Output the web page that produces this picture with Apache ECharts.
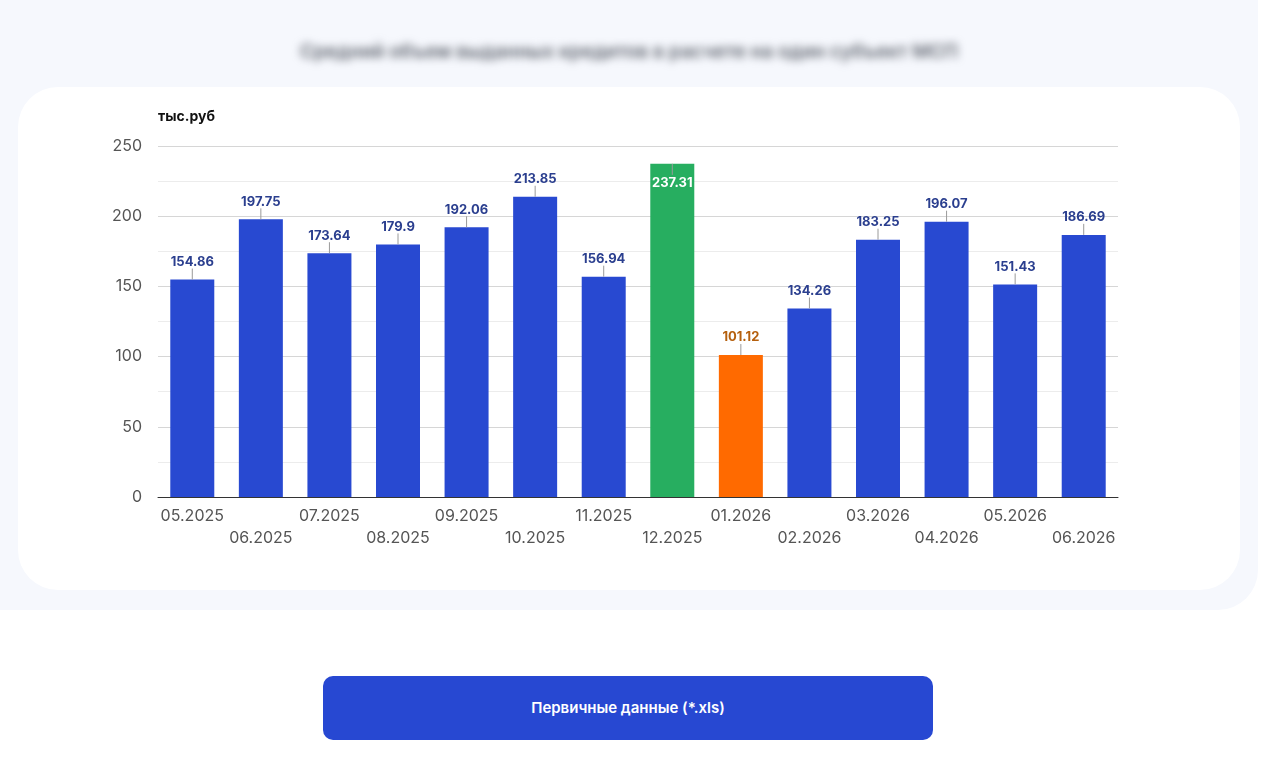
<!DOCTYPE html>
<html><head><meta charset="utf-8">
<script src="https://cdn.jsdelivr.net/npm/echarts@6/dist/echarts.min.js"></script>
<style>
html,body{margin:0;padding:0;background:#fff;width:1280px;height:776px;overflow:hidden;font-family:Inter,sans-serif;}
#outer{position:absolute;left:-40px;top:-40px;width:1298px;height:650px;background:#f6f8fd;border-radius:40px;}
#card{position:absolute;left:18px;top:87px;width:1222px;height:503px;background:#fff;border-radius:40px;}
#title{position:absolute;left:0;top:40px;width:1258px;text-align:center;font-size:19px;color:#60656f;font-weight:600;filter:blur(4px);white-space:nowrap;}
#chart{position:absolute;left:0;top:0;width:1280px;height:776px;}
#btn{position:absolute;left:323px;top:676px;width:610px;height:64px;background:#2748d2;border-radius:10px;color:#fff;font-size:15px;font-weight:600;text-align:center;line-height:64px;}
</style></head>
<body>
<div id="outer"></div>
<div id="card"></div>
<div id="title">Средний объем выданных кредитов в расчете на один субъект МСП</div>
<div id="chart"></div>
<div id="btn">Первичные данные (*.xls)</div>
<script>
const categories = ["05.2025","06.2025","07.2025","08.2025","09.2025","10.2025","11.2025","12.2025","01.2026","02.2026","03.2026","04.2026","05.2026","06.2026"];
const values = [154.86,197.75,173.64,179.9,192.06,213.85,156.94,237.31,101.12,134.26,183.25,196.07,151.43,186.69];
const yTicks = [0,50,100,150,200,250];
const unitName = "тыс.руб";

const BLUE = "#2849d1", GREEN = "#27ae60", ORANGE = "#ff6a00";
const FONT = "Inter";
const yMax = yTicks[yTicks.length-1];
const maxV = Math.max(...values), minV = Math.min(...values);
const flip = v => v > yMax - 20;

const barData = values.map(v => {
  const isMax = v === maxV, isMin = v === minV;
  const item = { value: v, itemStyle: { color: isMax ? GREEN : isMin ? ORANGE : BLUE } };
  if (flip(v)) {
    item.label = { position: 'insideTop', distance: 13, color: '#fff', textBorderColor: GREEN, textBorderWidth: 3 };
  } else if (isMin) {
    item.label = { color: '#b5600e' };
  }
  return item;
});

const chart = echarts.init(document.getElementById('chart'), null, {renderer:'canvas'});
chart.setOption({
  animation: false,
  grid: { left: 158, right: 162, top: 146, bottom: 279, containLabel: false },
  xAxis: {
    type: 'category', data: categories,
    axisLine: { lineStyle: { color: '#333', width: 1 } },
    axisTick: { show: false },
    axisLabel: {
      interval: 0, margin: 8, fontSize: 16, lineHeight: 22, color: '#555',
      fontFamily: FONT,
      formatter: (v, i) => (i % 2 ? '\n' + v : v)
    }
  },
  yAxis: {
    type: 'value', min: yTicks[0], max: yMax, interval: 50,
    name: unitName, nameLocation: 'end', nameGap: 22,
    nameTextStyle: { align: 'left', fontSize: 14, fontWeight: 'bold', color: '#111', fontFamily: FONT },
    axisLine: { show: false }, axisTick: { show: false },
    axisLabel: { fontSize: 16, color: '#555', margin: 16, fontFamily: FONT },
    splitLine: { lineStyle: { color: '#d6d6d6' } },
    minorTick: { show: false, splitNumber: 2 },
    minorSplitLine: { show: true, lineStyle: { color: '#ececec' } }
  },
  series: [
    {
      type: 'bar', data: barData, barWidth: 44,
      label: { show: true, position: 'top', distance: 11, fontSize: 13, fontWeight: 'bold', color: '#2b3f8f', fontFamily: FONT }
    },
    {
      type: 'custom', silent: true, z: 5,
      data: values.map((v, i) => [i, v]),
      renderItem: (params, api) => {
        const p = api.coord([api.value(0), api.value(1)]);
        const dir = flip(api.value(1)) ? 1 : -1;
        return { type: 'line', shape: { x1: p[0], y1: p[1], x2: p[0], y2: p[1] + dir * 11 },
                 style: { stroke: '#9a9a9a', lineWidth: 1 } };
      }
    }
  ]
});
</script>
</body></html>
